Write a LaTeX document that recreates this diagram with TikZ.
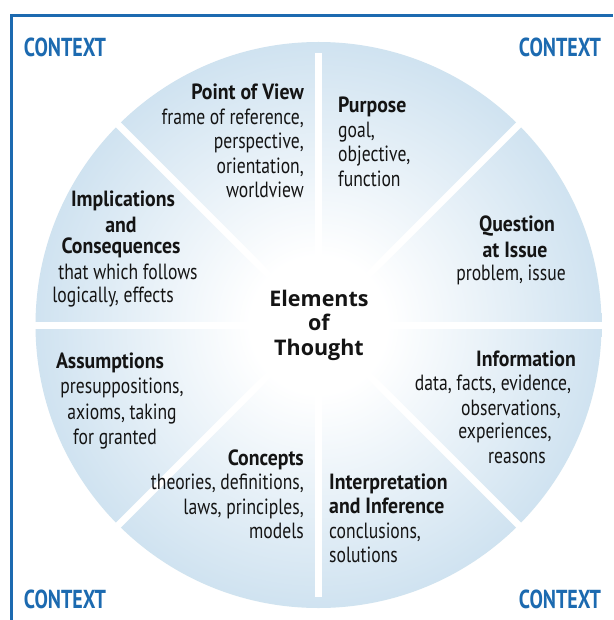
\documentclass[tikz,border=0pt]{standalone}
\usepackage{fontspec}
\setmainfont{PT Sans}
\newfontfamily\bodyfont[FakeStretch=0.8]{PT Sans}
\newfontfamily\ttlfont[FakeStretch=0.9]{PT Sans}
\newfontfamily\ctxfont[FakeStretch=0.77]{PT Sans}
\newfontfamily\centerfont{Open Sans}
\definecolor{ctxblue}{RGB}{28,106,176}
\definecolor{edgeblue}{RGB}{152,193,223}
\definecolor{midblue}{RGB}{200,222,238}
\definecolor{txt}{RGB}{20,20,20}
\pgfdeclareradialshading{elemshade}{\pgfpoint{0bp}{0bp}}{color(0bp)=(white); color(6bp)=(white); color(28bp)=(midblue); color(50bp)=(edgeblue); color(52bp)=(edgeblue)}
\tikzset{
  frameline/.style={draw=ctxblue, line width=3pt},
  ctx/.style={font=\ctxfont\bfseries\fontsize{26}{30}\selectfont, text=ctxblue, inner sep=0pt},
  body/.style={font=\bodyfont\fontsize{22}{24.5}\selectfont, text=txt, inner sep=0pt},
  ttl/.style={font=\ttlfont\bfseries\fontsize{22}{24.5}\selectfont, text=txt, inner sep=0pt},
  gap/.style={draw=white, line width=7pt},
  centre/.style={font=\centerfont\bfseries\fontsize{21.5}{24.5}\selectfont, text=txt, align=center, inner sep=0pt}
}
\begin{document}
\begin{tikzpicture}[x=1pt,y=-1pt]
\useasboundingbox (0,0) rectangle (613,620);
\fill[white] (0,0) rectangle (613,620);
% frame
\draw[frameline] (11,620) -- (11,16) -- (613,16);
% circle
\coordinate (c) at (318.5,325);
\shade[shading=elemshade] (c) circle (283pt);
% gaps
\foreach \a in {0,45,135,180,225,315}
  \draw[gap] ([shift={(\a:70)}]c) -- ([shift={(\a:290)}]c);
\foreach \a in {90,270}
  \draw[gap] ([shift={(\a:70)}]c) -- ([shift={(\a:272)}]c);
% CONTEXT labels
\node[ctx] (ctxtl) at (65,47) {CONTEXT};
\node[ctx] (ctxtr) at (560,47) {CONTEXT};
\node[ctx] (ctxbl) at (65,599) {CONTEXT};
\node[ctx] (ctxbr) at (560,599) {CONTEXT};
\begin{scope}[shift={(0,4)}]
% center
\node[centre] (elem) at (319,321) {Elements\\of\\Thought};
% Point of View
\node[ttl,anchor=mid east] (pv0) at (304,93) {Point of View};
\node[body,anchor=mid east] (pv1) at (304,118) {frame of reference,};
\node[body,anchor=mid east] (pv2) at (304,142) {perspective,};
\node[body,anchor=mid east] (pv3) at (304,167) {orientation,};
\node[body,anchor=mid east] (pv4) at (304,191) {worldview};
% Purpose
\node[ttl,anchor=mid west] (pu0) at (338,106) {Purpose};
\node[body,anchor=mid west] (pu1) at (338,131) {goal,};
\node[body,anchor=mid west] (pu2) at (338,155) {objective,};
\node[body,anchor=mid west] (pu3) at (338,180) {function};
% Question at Issue
\node[ttl] (qi0) at (517,222) {Question};
\node[ttl] (qi1) at (515,246) {at Issue};
\node[body] (qi2) at (511,271) {problem, issue};
% Information
\node[ttl] (in0) at (526,355) {Information};
\node[body] (in1) at (493,380) {data, facts, evidence,};
\node[body] (in2) at (511,405) {observations,};
\node[body] (in3) at (505,429) {experiences,};
\node[body] (in4) at (517,454) {reasons};
% Interpretation and Inference
\node[ttl,anchor=mid west] (ii0) at (329,483) {Interpretation};
\node[ttl,anchor=mid west] (ii1) at (329,507) {and Inference};
\node[body,anchor=mid west] (ii2) at (329,532) {conclusions,};
\node[body,anchor=mid west] (ii3) at (329,556) {solutions};
% Concepts
\node[ttl,anchor=mid east] (co0) at (304,459) {Concepts};
\node[body,anchor=mid east] (co1) at (304,483) {theories, definitions,};
\node[body,anchor=mid east] (co2) at (304,508) {laws, principles,};
\node[body,anchor=mid east] (co3) at (304,532) {models};
% Assumptions
\node[ttl] (as0) at (110,359) {Assumptions};
\node[body] (as1) at (122,384) {presuppositions,};
\node[body] (as2) at (122,410) {axioms, taking};
\node[body] (as3) at (115,435) {for granted};
% Implications and Consequences
\node[ttl] (im0) at (123,197) {Implications};
\node[ttl] (im1) at (121,221) {and};
\node[ttl] (im2) at (121,244) {Consequences};
\node[body] (im3) at (128,268) {that which follows};
\node[body] (im4) at (113,293) {logically, effects};
\end{scope}
\end{tikzpicture}
\end{document}
